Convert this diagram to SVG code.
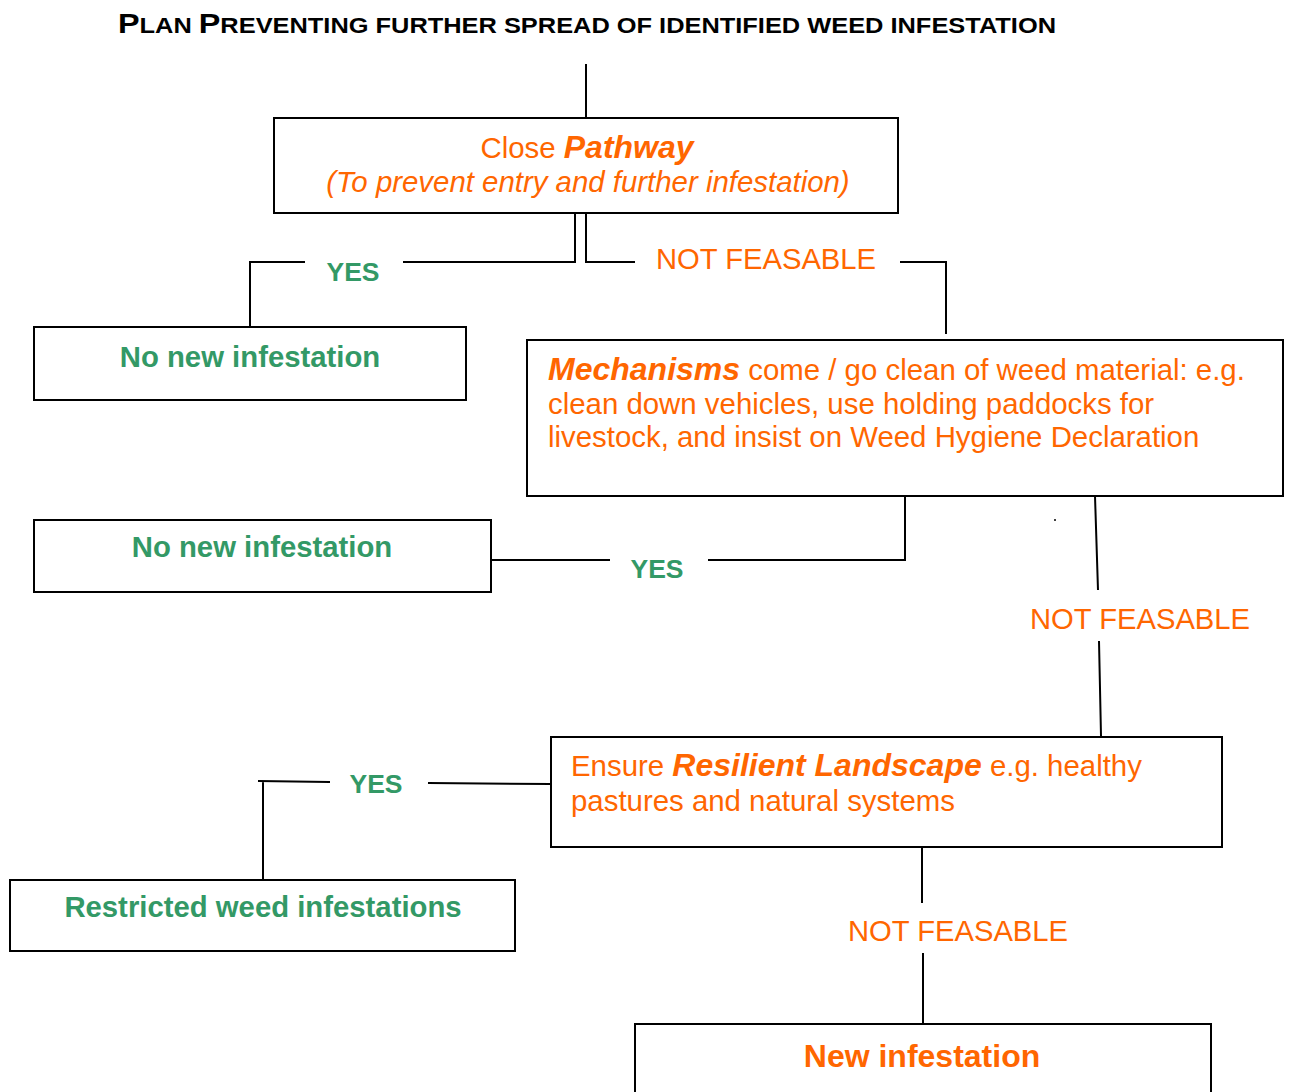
<svg xmlns="http://www.w3.org/2000/svg" width="1290" height="1092" viewBox="0 0 1290 1092">
<style>
text{font-family:"Liberation Sans",Arial,sans-serif}
.box{fill:#fff;stroke:#000;stroke-width:2}
.ln{fill:none;stroke:#000;stroke-width:2}
.or{fill:#ff6600;font-size:29.4px}
.gr{fill:#339966;font-size:29.3px;font-weight:bold}
.lbl{fill:#ff6600;font-size:29.2px}
.yes{fill:#339966;font-size:26.5px;font-weight:bold}
.b{font-weight:bold;font-style:italic;font-size:32px}
</style>
<rect width="1290" height="1092" fill="#fff"/>
<text x="118" y="33" font-weight="bold" font-size="22" fill="#000" textLength="938" lengthAdjust="spacingAndGlyphs"><tspan font-size="28">P</tspan>LAN <tspan font-size="28">P</tspan>REVENTING FURTHER SPREAD OF IDENTIFIED WEED INFESTATION</text>
<g id="connectors">
<path class="ln" d="M586,64V118"/>
<path class="ln" d="M575,213V262H403M305,262H250V327"/>
<path class="ln" d="M586,213V262H635M900,262H946V334"/>
<path class="ln" d="M905,496V560H708M610,560H491"/>
<path class="ln" d="M1095,496L1098,590M1099,641L1101,736"/>
<path class="ln" d="M551,784L428,783M330,782L258,781M263,782V880"/>
<path class="ln" d="M922,847V903M923,953V1024"/>
<circle cx="1055" cy="520" r="1" fill="#000"/>
<text class="yes" x="353" y="281" text-anchor="middle">YES</text>
<text class="lbl" x="766" y="269" text-anchor="middle">NOT FEASABLE</text>
<text class="yes" x="657" y="578" text-anchor="middle">YES</text>
<text class="lbl" x="1140" y="629" text-anchor="middle">NOT FEASABLE</text>
<text class="yes" x="376" y="793" text-anchor="middle">YES</text>
<text class="lbl" x="958" y="941" text-anchor="middle">NOT FEASABLE</text>
</g>
<g id="close-pathway">
<rect class="box" x="274" y="118" width="624" height="95"/>
<text class="or" x="587" y="158" text-anchor="middle">Close <tspan class="b">Pathway</tspan></text>
<text class="or" x="588" y="192" text-anchor="middle" font-style="italic">(To prevent entry and further infestation)</text>
</g>
<g id="no-new-1">
<rect class="box" x="34" y="327" width="432" height="73"/>
<text class="gr" x="250" y="367" text-anchor="middle">No new infestation</text>
</g>
<g id="mechanisms">
<rect class="box" x="527" y="340" width="756" height="156"/>
<text class="or" x="548" y="380"><tspan class="b">Mechanisms</tspan> come / go clean of weed material: e.g.</text>
<text class="or" x="548" y="414">clean down vehicles, use holding paddocks for</text>
<text class="or" x="548" y="447">livestock, and insist on Weed Hygiene Declaration</text>
</g>
<g id="no-new-2">
<rect class="box" x="34" y="520" width="457" height="72"/>
<text class="gr" x="262" y="557" text-anchor="middle">No new infestation</text>
</g>
<g id="resilient">
<rect class="box" x="551" y="737" width="671" height="110"/>
<text class="or" x="571" y="776">Ensure <tspan class="b">Resilient Landscape</tspan> e.g. healthy</text>
<text class="or" x="571" y="811">pastures and natural systems</text>
</g>
<g id="restricted">
<rect class="box" x="10" y="880" width="505" height="71"/>
<text class="gr" x="263" y="917" text-anchor="middle">Restricted weed infestations</text>
</g>
<g id="new-infestation">
<rect class="box" x="635" y="1024" width="576" height="80"/>
<text x="922" y="1067" text-anchor="middle" font-weight="bold" font-size="32" fill="#ff6600">New infestation</text>
</g>
</svg>
